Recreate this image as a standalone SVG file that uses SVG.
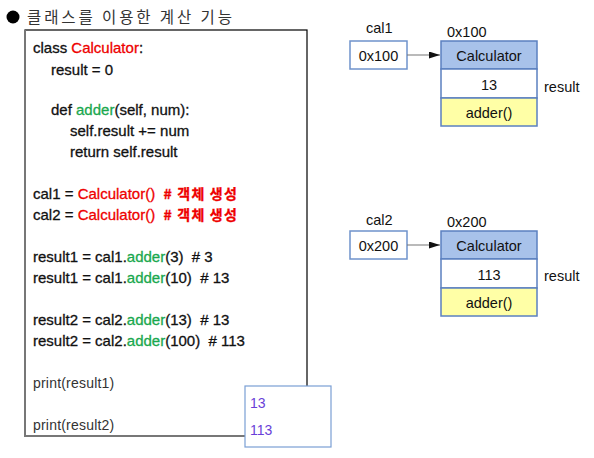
<svg xmlns="http://www.w3.org/2000/svg" width="594" height="458" viewBox="0 0 594 458">
<defs>
<style>
text{font-family:"Liberation Sans","Noto Sans CJK KR",sans-serif;font-size:14px;fill:#111}
.code text{font-size:15px;white-space:pre;stroke:#111;stroke-width:0.3}
.code .pr{fill:#333;stroke:none;font-size:14px;letter-spacing:0.2px}
.r{fill:#ee0000;stroke:#ee0000}
.g{fill:#1aa84e;stroke:#1aa84e}
.k{font-family:"Noto Sans CJK KR",sans-serif;font-weight:bold;font-size:14px;letter-spacing:1.2px}
.out{fill:#6a3fd8}
.c{text-anchor:middle}
.ref{fill:#fff;stroke:#6f93cc;stroke-width:1.5}
.hdr{fill:#a8c2ea;stroke:#5b80c0;stroke-width:1.5}
.fld{fill:#fff;stroke:#5b80c0;stroke-width:1.5}
.mth{fill:#ffffa6;stroke:#5b80c0;stroke-width:1.5}
.obj text{font-size:14.5px}
.conn{stroke:#777;stroke-width:1.2;fill:none}
</style>
<marker id="arr" markerWidth="11" markerHeight="7" refX="11" refY="3.5" orient="auto" markerUnits="userSpaceOnUse">
<path d="M0,0 L11,3.5 L0,7 z" fill="#111"/>
</marker>
</defs>
<g id="title">
<circle cx="13" cy="17" r="6.5" fill="#000"/>
<text x="27" y="23" style="font-size:15.5px;letter-spacing:2.9px;fill:#333;font-family:'Noto Sans CJK KR',sans-serif">클래스를 이용한 계산 기능</text>
</g>
<g id="code" class="code">
<rect x="25" y="30" width="282" height="406" fill="#fff" stroke="#000" stroke-width="1.2"/>
<path d="M25,30 V436 H307" fill="none" stroke="#777" stroke-width="2"/>
<text x="33" y="53">class <tspan class="r">Calculator</tspan>:</text>
<text x="51" y="75">result = 0</text>
<text x="51" y="115">def <tspan class="g">adder</tspan>(self, num):</text>
<text x="70" y="136">self.result += num</text>
<text x="70" y="157">return self.result</text>
<text x="33" y="199">cal1 = <tspan class="r">Calculator()  </tspan><tspan class="r k"># 객체 생성</tspan></text>
<text x="33" y="220">cal2 = <tspan class="r">Calculator()  </tspan><tspan class="r k"># 객체 생성</tspan></text>
<text x="33" y="262">result1 = cal1.<tspan class="g">adder</tspan>(3)  # 3</text>
<text x="33" y="283">result1 = cal1.<tspan class="g">adder</tspan>(10)  # 13</text>
<text x="33" y="325">result2 = cal2.<tspan class="g">adder</tspan>(13)  # 13</text>
<text x="33" y="346">result2 = cal2.<tspan class="g">adder</tspan>(100)  # 113</text>
<text x="33" y="388" class="pr">print(result1)</text>
<text x="33" y="430" class="pr">print(result2)</text>
</g>
<g id="output">
<rect x="245" y="386" width="86" height="61" fill="#fff" stroke="#7a9fd4" stroke-width="1.2"/>
<text x="250" y="408" class="out">13</text>
<text x="250" y="435" class="out">113</text>
</g>
<g id="cal1" class="obj">
<text x="366" y="33">cal1</text>
<rect x="350" y="41" width="57" height="28" class="ref"/>
<text x="378.5" y="61" class="c">0x100</text>
</g>
<g id="obj1" class="obj">
<text x="447" y="37">0x100</text>
<rect x="441" y="41" width="96" height="28" class="hdr"/>
<rect x="441" y="69" width="96" height="29" class="fld"/>
<rect x="441" y="98" width="96" height="28" class="mth"/>
<text x="489" y="61" class="c">Calculator</text>
<text x="489" y="90" class="c">13</text>
<text x="489" y="118" class="c">adder()</text>
<text x="544" y="92">result</text>
</g>
<g id="cal2" class="obj">
<text x="366" y="225">cal2</text>
<rect x="350" y="231" width="57" height="28" class="ref"/>
<text x="378.5" y="251" class="c">0x200</text>
</g>
<g id="obj2" class="obj">
<text x="447" y="227">0x200</text>
<rect x="441" y="231" width="96" height="28" class="hdr"/>
<rect x="441" y="259" width="96" height="29" class="fld"/>
<rect x="441" y="288" width="96" height="28" class="mth"/>
<text x="489" y="251" class="c">Calculator</text>
<text x="489" y="280" class="c">113</text>
<text x="489" y="308" class="c">adder()</text>
<text x="544" y="281">result</text>
</g>
<g id="connectors">
<line x1="407" y1="55" x2="440" y2="55" class="conn" marker-end="url(#arr)"/>
<line x1="407" y1="245" x2="440" y2="245" class="conn" marker-end="url(#arr)"/>
</g>
</svg>
